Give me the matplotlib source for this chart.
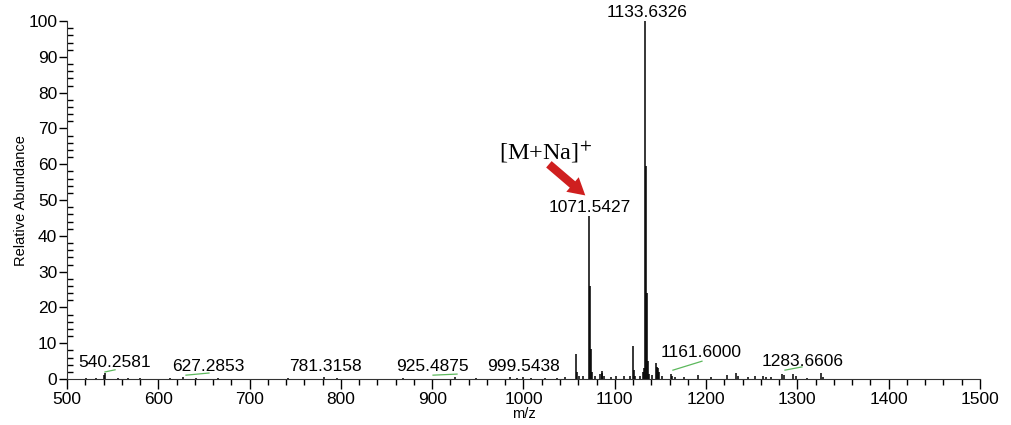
import numpy as np
import matplotlib.pyplot as plt
from matplotlib.ticker import MultipleLocator

plt.rcParams['font.family'] = ['Liberation Sans', 'DejaVu Sans']
plt.rcParams['mathtext.fontset'] = 'stix'

# peak list (m/z, relative abundance)
mz = [520.3, 531.2, 540.26, 541.3, 556.2, 566.3, 580.1, 612.3, 627.29, 641.3,
      665.2, 742.4, 781.32, 795.4, 868.4, 925.49, 948.5, 985.5, 992.5, 999.54,
      1008.5, 1023.5, 1036.5, 1045.5, 1057.6, 1058.6, 1060.6, 1065.5, 1071.54,
      1072.55, 1073.55, 1074.55, 1078.5, 1083.5, 1085.5, 1086.5, 1088.5, 1095.5,
      1101.5, 1110.6, 1116.6, 1119.6, 1120.6, 1122.6, 1127.6, 1130.6, 1131.6,
      1133.63, 1134.64, 1135.64, 1136.64, 1137.6, 1140.6, 1145.6, 1146.6,
      1147.6, 1148.6, 1151.6, 1161.6, 1162.6, 1165.6, 1175.6, 1191.6, 1205.6,
      1222.6, 1232.6, 1234.6, 1245.6, 1253.6, 1262.6, 1265.6, 1270.6, 1283.66,
      1285.6, 1295.6, 1298.6, 1310.6, 1325.6, 1327.6]
abund = [0.4, 0.3, 1.2, 1.6, 0.3, 0.4, 0.3, 0.3, 0.5, 0.4,
         0.3, 0.3, 0.5, 0.3, 0.3, 0.5, 0.3, 0.5, 0.4, 0.7,
         0.4, 0.4, 0.4, 0.5, 7.0, 2.0, 0.8, 0.8, 45.5,
         26.0, 8.5, 2.0, 0.8, 1.5, 2.2, 1.8, 1.0, 0.6,
         0.8, 0.8, 1.0, 9.2, 2.5, 1.0, 1.0, 2.0, 3.0,
         100.0, 59.5, 24.0, 5.0, 1.5, 1.2, 4.5, 3.5,
         3.0, 2.0, 0.8, 1.5, 1.0, 0.5, 0.5, 1.1, 0.5,
         1.2, 1.6, 1.0, 0.5, 1.0, 1.0, 0.6, 0.5, 1.5,
         1.2, 1.5, 0.8, 0.4, 1.6, 0.6]

# labels: text, label x, label y, leader line (x0, y0, x1, y1) or None
labels = ['540.2581', '627.2853', '781.3158', '925.4875', '999.5438',
          '1161.6000', '1283.6606', '1071.5427', '1133.6326']
label_x = [552.6, 654.4, 782.6, 900.3, 1000.0, 1194.4, 1305.6, 1072.3, 1135.3]
label_y = [4.6, 3.5, 3.5, 3.5, 3.5, 7.4, 4.8, 48.0, 102.3]
leaders = [(541.6, 2.0, 552.6, 2.6), (630.3, 1.1, 655.5, 1.7), None,
           (900.9, 1.1, 927.2, 1.4), None, (1163.7, 2.5, 1195.5, 5.0),
           (1286.4, 2.5, 1305.0, 3.4), None, None]

fig = plt.figure(figsize=(10.11, 4.25), dpi=100)
ax = fig.add_axes([0.0663, 0.108, 0.9030, 0.8424])

ax.vlines(mz, 0, abund, color='black', lw=1.1)

for t, x, y, ld in zip(labels, label_x, label_y, leaders):
    ax.text(x, y, t, ha='center', va='center', fontsize=12.5, clip_on=False)
    if ld is not None:
        ax.plot([ld[0], ld[2]], [ld[1], ld[3]], color='#5cb85c', lw=0.9)

ax.text(1024, 63.3, '[M+Na]$^{+}$', family='Liberation Serif', fontsize=17.5,
        ha='center', va='center')
ax.annotate('', xy=(1070.0, 50.8), xytext=(1025.5, 60.5),
            arrowprops=dict(arrowstyle='simple,head_width=1.25,head_length=1.1,tail_width=0.55',
                            color='#cf1f1f', lw=0, mutation_scale=11))

ax.set_xlim(500, 1500)
ax.set_ylim(0, 100)
ax.xaxis.set_major_locator(MultipleLocator(100))
ax.xaxis.set_minor_locator(MultipleLocator(20))
ax.yaxis.set_major_locator(MultipleLocator(10))
ax.yaxis.set_minor_locator(MultipleLocator(2))
ax.tick_params(axis='x', which='major', direction='out', length=7, width=1, labelsize=12.5, pad=2)
ax.tick_params(axis='x', which='minor', direction='out', length=4, width=1)
ax.tick_params(axis='y', which='major', direction='out', length=6, width=1, labelsize=12.5, pad=1)
ax.tick_params(axis='y', which='minor', direction='in', length=4, width=1)
for s in ['top', 'right']:
    ax.spines[s].set_visible(False)
for s in ['left', 'bottom']:
    ax.spines[s].set_color('#333333')

ax.set_xlabel('m/z', fontsize=10.5, labelpad=0)
ax.set_ylabel('Relative Abundance', fontsize=10.5, labelpad=0)

fig.savefig('out.png', dpi=100)
